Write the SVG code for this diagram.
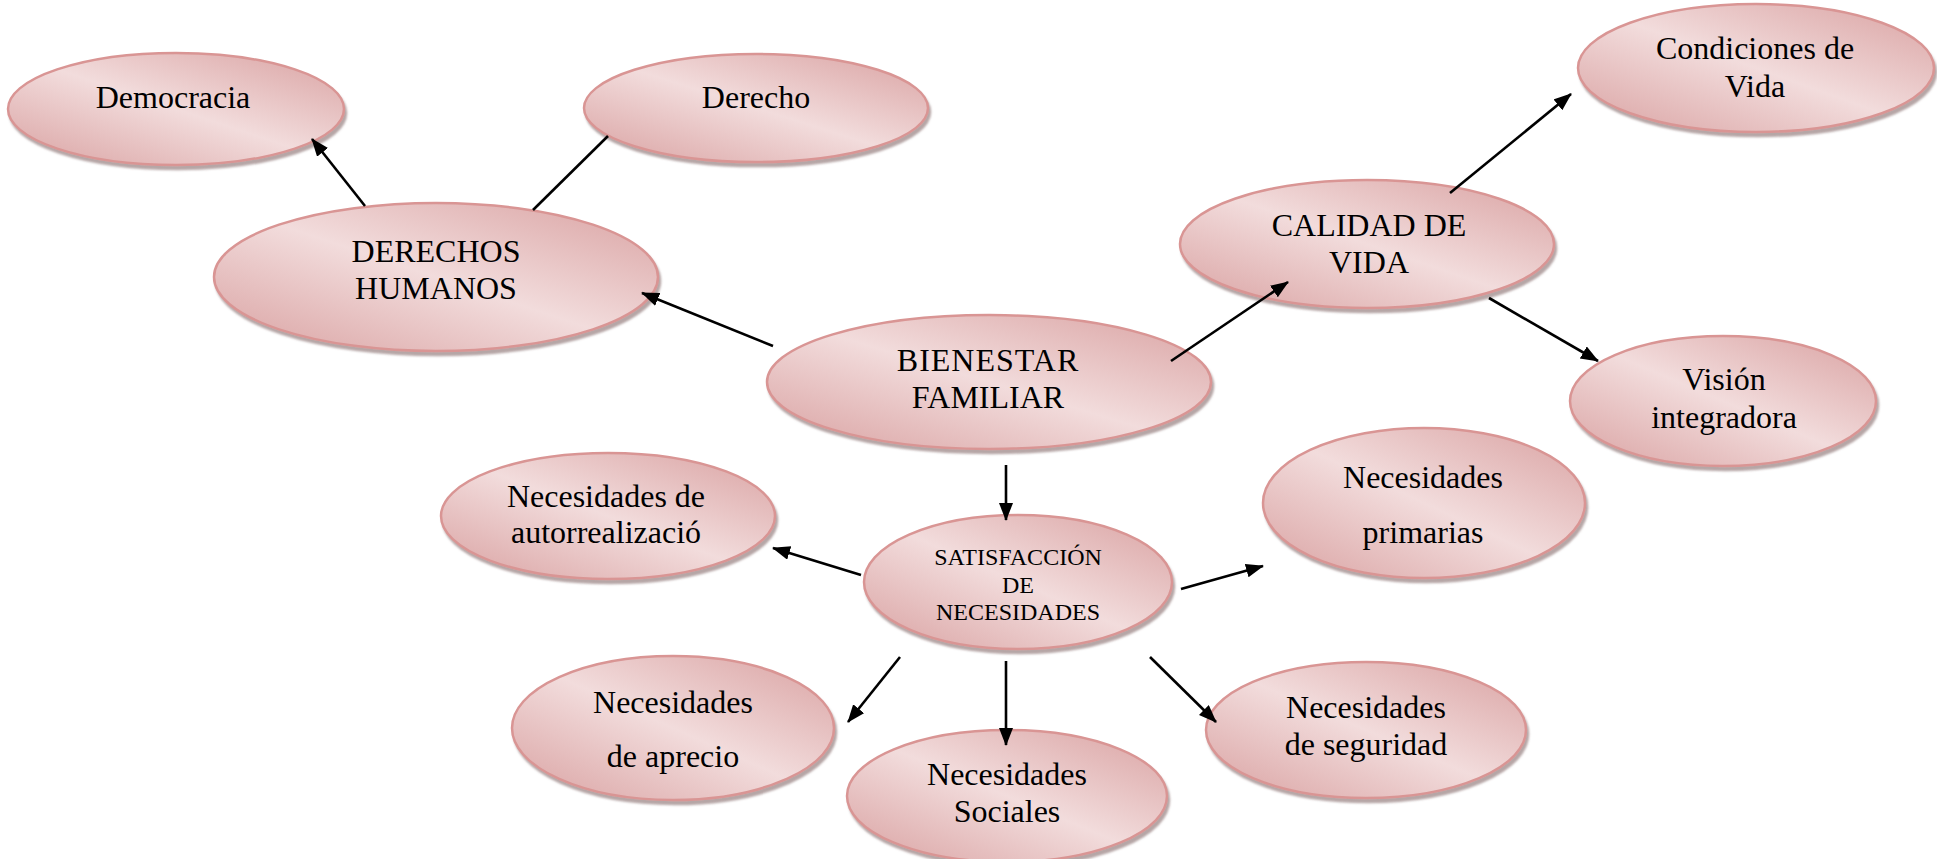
<svg xmlns="http://www.w3.org/2000/svg" width="1937" height="859" viewBox="0 0 1937 859">
<style>
.node ellipse{fill:url(#g);stroke:#d99594;stroke-width:2.5;filter:url(#sh)}
.node text{font-family:"Liberation Serif","Times New Roman",serif;font-size:32px;fill:#000;text-anchor:middle}
.node text.small{font-size:24px}
.conn line{stroke:#000;stroke-width:2.6}
</style>
<defs>
<linearGradient id="g" x1="0" y1="1" x2="1" y2="0">
<stop offset="0" stop-color="#d9a1a1"/>
<stop offset="0.5" stop-color="#f2dcdc"/>
<stop offset="1" stop-color="#d9a1a1"/>
</linearGradient>
<filter id="sh" x="-10%" y="-10%" width="125%" height="135%">
<feDropShadow dx="2" dy="4" stdDeviation="1.2" flood-color="#7a5c5c" flood-opacity="0.55"/>
</filter>
<marker id="ah" markerUnits="userSpaceOnUse" markerWidth="20" markerHeight="16" refX="17" refY="7" orient="auto">
<path d="M0,0 L18,7 L0,14 Z" fill="#000"/>
</marker>
</defs>
<g id="n-democracia" class="node"><ellipse cx="176" cy="109" rx="168" ry="56"/><text x="173" y="108">Democracia</text></g>
<g id="n-derecho" class="node"><ellipse cx="756" cy="108" rx="172" ry="54"/><text x="756" y="108">Derecho</text></g>
<g id="n-derechos" class="node"><ellipse cx="436" cy="277" rx="222" ry="74"/><text x="436" y="262">DERECHOS</text><text x="436" y="299">HUMANOS</text></g>
<g id="n-bienestar" class="node"><ellipse cx="989" cy="382" rx="222" ry="67"/><text x="988" y="371" letter-spacing="1">BIENESTAR</text><text x="988" y="408">FAMILIAR</text></g>
<g id="n-calidad" class="node"><ellipse cx="1367" cy="244" rx="187" ry="64"/><text x="1369" y="236">CALIDAD DE</text><text x="1369" y="273">VIDA</text></g>
<g id="n-condiciones" class="node"><ellipse cx="1756" cy="68" rx="178" ry="64"/><text x="1755" y="59">Condiciones de</text><text x="1755" y="97">Vida</text></g>
<g id="n-vision" class="node"><ellipse cx="1723" cy="401" rx="153" ry="65"/><text x="1724" y="390">Visión</text><text x="1724" y="428">integradora</text></g>
<g id="n-autorrealizacion" class="node"><ellipse cx="608" cy="516" rx="167" ry="63"/><text x="606" y="507">Necesidades de</text><text x="606" y="543">autorrealizació</text></g>
<g id="n-satisfaccion" class="node"><ellipse cx="1018" cy="582" rx="154" ry="67"/><text class="small" x="1018" y="565">SATISFACCIÓN</text><text class="small" x="1018" y="593">DE</text><text class="small" x="1018" y="620">NECESIDADES</text></g>
<g id="n-primarias" class="node"><ellipse cx="1424" cy="503" rx="161" ry="75"/><text x="1423" y="488">Necesidades</text><text x="1423" y="543">primarias</text></g>
<g id="n-aprecio" class="node"><ellipse cx="673" cy="728" rx="161" ry="72"/><text x="673" y="713">Necesidades</text><text x="673" y="767">de aprecio</text></g>
<g id="n-sociales" class="node"><ellipse cx="1007" cy="796" rx="160" ry="66"/><text x="1007" y="785">Necesidades</text><text x="1007" y="822">Sociales</text></g>
<g id="n-seguridad" class="node"><ellipse cx="1366" cy="730" rx="160" ry="68"/><text x="1366" y="718">Necesidades</text><text x="1366" y="755">de seguridad</text></g>
<g id="connectors" class="conn">
<line x1="365" y1="206" x2="312" y2="139" marker-end="url(#ah)"/>
<line x1="533" y1="210" x2="608" y2="136"/>
<line x1="773" y1="346" x2="642" y2="293" marker-end="url(#ah)"/>
<line x1="1171" y1="361" x2="1288" y2="282" marker-end="url(#ah)"/>
<line x1="1450" y1="193" x2="1571" y2="94" marker-end="url(#ah)"/>
<line x1="1489" y1="298" x2="1598" y2="361" marker-end="url(#ah)"/>
<line x1="1006" y1="465" x2="1006" y2="520" marker-end="url(#ah)"/>
<line x1="861" y1="575" x2="773" y2="548" marker-end="url(#ah)"/>
<line x1="1181" y1="589" x2="1263" y2="566" marker-end="url(#ah)"/>
<line x1="900" y1="657" x2="848" y2="722" marker-end="url(#ah)"/>
<line x1="1006" y1="661" x2="1006" y2="745" marker-end="url(#ah)"/>
<line x1="1150" y1="657" x2="1216" y2="722" marker-end="url(#ah)"/>
</g>
</svg>
